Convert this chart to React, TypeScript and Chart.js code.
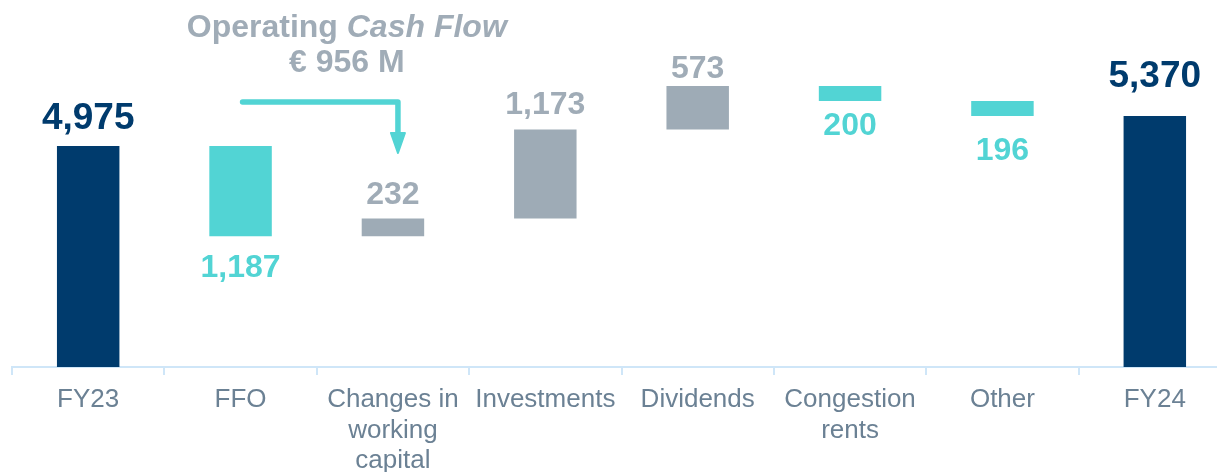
import React, { useEffect, useRef } from "react";
import { Chart, registerables } from "chart.js";

Chart.register(...registerables);

// ---- data ----
const categories: string[][] = [
  ["FY23"],
  ["FFO"],
  ["Changes in", "working", "capital"],
  ["Investments"],
  ["Dividends"],
  ["Congestion", "rents"],
  ["Other"],
  ["FY24"],
];
const openingNetDebt = 4975;
const movements = [-1187, 232, 1173, 573, -200, -196];
const closingNetDebt = 5370;
const operatingCashFlow = 956;
const yAxisMin = 2067;
const yAxisMax = 6896;

// ---- styles ----
const NAVY = "#003b6d";
const GRAY = "#9eabb6";
const GRAY_TEXT = "#a0acb7";
const TEAL = "#52d4d4";
const AXIS = "#cfe6f8";
const LABEL = "#6b8194";
const FONT = '"Liberation Sans", Arial, Helvetica, sans-serif';
const labelGap = [17, 18, 15, 15, 8, 11, 21, 29];

type Kind = "total" | "up" | "down";

function buildSeries() {
  const ranges: [number, number][] = [];
  const kinds: Kind[] = [];
  const texts: string[] = [];
  ranges.push([yAxisMin, openingNetDebt]);
  kinds.push("total");
  texts.push(openingNetDebt.toLocaleString("en-US"));
  let level = openingNetDebt;
  movements.forEach((m) => {
    ranges.push([level, level + m]);
    kinds.push(m >= 0 ? "up" : "down");
    texts.push(Math.abs(m).toLocaleString("en-US"));
    level += m;
  });
  ranges.push([yAxisMin, closingNetDebt]);
  kinds.push("total");
  texts.push(closingNetDebt.toLocaleString("en-US"));
  return { ranges, kinds, texts };
}

export default function App() {
  const canvasRef = useRef<HTMLCanvasElement | null>(null);

  useEffect(() => {
    const canvas = canvasRef.current;
    if (!canvas) return;
    const { ranges, kinds, texts } = buildSeries();
    const colors = kinds.map((k) => (k === "total" ? NAVY : k === "up" ? GRAY : TEAL));

    const labelPlugin = {
      id: "waterfallLabels",
      afterDatasetsDraw(chart: any) {
        const ctx = chart.ctx as CanvasRenderingContext2D;
        const meta = chart.getDatasetMeta(0);
        ctx.save();
        meta.data.forEach((bar: any, i: number) => {
          const p = bar.getProps(["x", "y", "base"], true);
          const top = Math.min(p.y, p.base);
          const bottom = Math.max(p.y, p.base);
          const kind = kinds[i];
          const size = kind === "total" ? 37 : 32;
          ctx.font = `bold ${size}px ${FONT}`;
          ctx.textAlign = "center";
          ctx.textBaseline = "alphabetic";
          ctx.fillStyle = kind === "total" ? NAVY : kind === "up" ? GRAY_TEXT : TEAL;
          const yText = kind === "down" ? bottom + labelGap[i] + size * 0.716 : top - labelGap[i];
          ctx.fillText(texts[i], p.x, yText);
        });

        // Operating cash flow annotation
        const xs = chart.scales.x;
        const x1 = xs.getPixelForValue(1);
        const x2 = xs.getPixelForValue(2);
        const top0 = chart.chartArea.top;
        const cx = (x1 + x2) / 2 + 30;
        ctx.fillStyle = GRAY_TEXT;
        ctx.textBaseline = "alphabetic";
        ctx.textAlign = "left";
        const a = "Operating ";
        const b = "Cash Flow";
        ctx.font = `bold 32px ${FONT}`;
        const wa = ctx.measureText(a).width;
        ctx.font = `italic bold 32px ${FONT}`;
        const wb = ctx.measureText(b).width;
        const startX = cx - (wa + wb) / 2;
        ctx.font = `bold 32px ${FONT}`;
        ctx.fillText(a, startX, top0 + 37);
        ctx.font = `italic bold 32px ${FONT}`;
        ctx.fillText(b, startX + wa, top0 + 37);
        ctx.font = `bold 32px ${FONT}`;
        ctx.textAlign = "center";
        ctx.fillText(`€ ${operatingCashFlow} M`, cx, top0 + 72);

        // arrow
        const ax = x2 + 5;
        ctx.strokeStyle = TEAL;
        ctx.fillStyle = TEAL;
        ctx.lineWidth = 5.5;
        ctx.lineCap = "round";
        ctx.lineJoin = "round";
        ctx.beginPath();
        ctx.moveTo(x1 + 2, top0 + 102);
        ctx.lineTo(ax, top0 + 102);
        ctx.lineTo(ax, top0 + 138);
        ctx.stroke();
        ctx.beginPath();
        ctx.moveTo(ax - 7, top0 + 133);
        ctx.lineTo(ax + 7, top0 + 133);
        ctx.lineTo(ax, top0 + 153);
        ctx.closePath();
        ctx.lineWidth = 2;
        ctx.fill();
        ctx.stroke();
        ctx.restore();
      },
    };

    const chart = new Chart(canvas, {
      type: "bar",
      data: {
        labels: categories,
        datasets: [
          {
            data: ranges as any,
            backgroundColor: colors,
            borderWidth: 0,
            barPercentage: 0.41,
            categoryPercentage: 1,
          },
        ],
      },
      options: {
        responsive: false,
        animation: false,
        devicePixelRatio: 1,
        layout: { padding: { left: 12, right: 9, top: 0, bottom: 0 } },
        plugins: { legend: { display: false }, tooltip: { enabled: false } },
        scales: {
          y: { display: false, min: yAxisMin, max: yAxisMax },
          x: {
            afterFit(scale: any) {
              scale.height = 105;
            },
            border: { display: true, color: AXIS, width: 2 },
            grid: {
              display: true,
              drawOnChartArea: false,
              drawTicks: true,
              tickLength: 8,
              color: AXIS,
              lineWidth: 2,
              offset: true,
            },
            ticks: {
              color: LABEL,
              font: { size: 26, family: FONT, lineHeight: 1.17 },
              padding: 10,
              maxRotation: 0,
              autoSkip: false,
            },
          },
        },
      },
      plugins: [labelPlugin],
    });
    return () => chart.destroy();
  }, []);

  return (
    <div style={{ position: "absolute", left: 0, top: 0, width: 1217, height: 472, overflow: "hidden", background: "#fff" }}>
      <canvas ref={canvasRef} width={1240} height={472} style={{ display: "block", width: 1240, height: 472 }} />
    </div>
  );
}
